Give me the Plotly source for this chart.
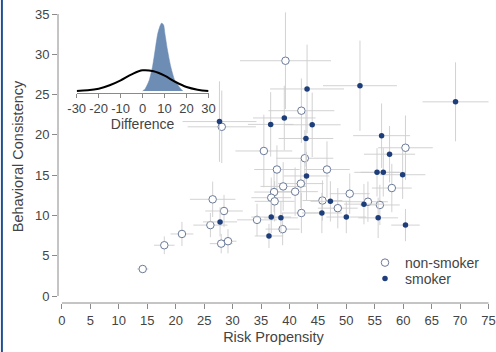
import plotly.graph_objects as go

# ---------------- data ----------------
ns_x = [14.2, 18.0, 21.1, 26.1, 26.5, 28.5, 28.0, 29.2, 28.1, 39.3, 42.1, 35.5, 42.7, 37.8, 46.6, 60.4,
        58.0, 38.9, 37.3, 36.8, 37.4, 42.0, 41.0, 45.8, 50.6, 48.5, 53.8, 55.9, 42.1, 34.3, 38.8]
ns_y = [3.35, 6.3, 7.7, 8.8, 12.0, 10.55, 6.5, 6.8, 21.0, 29.2, 23.0, 18.0, 17.1, 15.7, 15.7, 18.4,
        13.4, 13.6, 12.9, 12.2, 11.75, 13.95, 12.95, 11.85, 12.7, 10.9, 11.7, 11.3, 10.3, 9.45, 8.3]
ns_ex = [1.0, 1.8, 2.0, 3.0, 4.0, 3.3, 2.0, 1.5, 6.0, 8.0, 5.8, 5.0, 5.0, 4.0, 4.0, 4.8,
         3.5, 4.0, 3.5, 3.5, 3.5, 4.0, 4.0, 3.5, 3.5, 3.5, 3.5, 3.5, 3.5, 3.5, 3.0]
ns_ey = [0.4, 1.1, 1.5, 1.5, 2.2, 2.0, 1.2, 1.5, 4.5, 6.0, 4.0, 4.5, 3.5, 3.0, 3.5, 4.0,
         3.0, 3.0, 2.5, 2.5, 2.5, 3.0, 3.0, 2.5, 2.5, 2.5, 2.5, 2.5, 2.5, 2.0, 2.0]

sm_x = [27.8, 27.7, 43.1, 52.4, 39.1, 36.7, 44.0, 42.9, 56.2, 69.2, 43.0, 57.6, 55.4, 56.5, 59.9, 47.2,
        53.1, 55.6, 60.4, 50.0, 45.7, 38.5, 36.8, 36.4]
sm_y = [9.2, 21.65, 25.7, 26.1, 22.1, 21.3, 21.25, 19.55, 19.9, 24.1, 14.9, 17.6, 15.35, 15.35, 15.05, 11.75,
        11.4, 9.7, 8.8, 9.8, 10.3, 9.7, 9.8, 7.45]
sm_ex = [3.0, 6.5, 6.5, 6.5, 5.5, 4.0, 5.0, 4.8, 5.0, 5.8, 4.0, 4.5, 4.0, 4.0, 4.0, 3.5,
         3.5, 3.5, 2.5, 3.5, 3.5, 3.0, 3.5, 2.5]
sm_ey = [1.8, 5.0, 5.5, 5.6, 4.0, 4.0, 4.0, 3.5, 4.0, 4.9, 3.0, 3.5, 3.0, 3.0, 3.0, 2.5,
         2.5, 2.5, 2.0, 2.0, 2.5, 2.0, 2.0, 1.5]

x_ticks = [0, 5, 10, 15, 20, 25, 30, 35, 40, 45, 50, 55, 60, 65, 70, 75]
y_ticks = [0, 5, 10, 15, 20, 25, 30, 35]

# inset: prior (black line) and posterior (blue area) of the difference
prior_x = [-30, -25, -20, -15, -10, -5, 0, 5, 10, 15, 20, 25, 30]
prior_d = [0.0, 0.0013, 0.0044, 0.0109, 0.0204, 0.0318, 0.0394, 0.0375, 0.0291, 0.0171, 0.0076, 0.0025, 0.0]
post_x = [0.0, 1.19, 2.99, 4.48, 5.67, 6.87, 7.91, 8.66, 9.55, 10.15, 11.34, 12.84, 14.63, 17.31, 18.36]
post_d = [0.0, 0.0044, 0.0204, 0.0457, 0.0775, 0.1091, 0.1238, 0.1295, 0.1257, 0.1091, 0.0775, 0.0457,
          0.0204, 0.0044, 0.0]
inset_ticks = [-30, -20, -10, 0, 10, 20, 30]
inset_ticktext = ["-30", "-20", "-10", "0", "10", "20", "30"]

# ---------------- styling ----------------
FONT = "Liberation Sans"
TXT = "#444444"
AX = "#8a8a8a"
ERR = "rgba(205,205,205,0.9)"
NAVY = "#1d3e7a"
OPEN_EDGE = "#6b7a99"
BLUE_FILL = "#6e8db5"

fig = go.Figure()

fig.add_trace(go.Scatter(
    x=ns_x, y=ns_y, mode="markers", name="non-smoker", legend="legend",
    error_x=dict(type="data", array=ns_ex, color=ERR, thickness=1, width=0),
    error_y=dict(type="data", array=ns_ey, color=ERR, thickness=1, width=0),
    marker=dict(symbol="circle", size=7.5, color="white", line=dict(color=OPEN_EDGE, width=1)),
    xaxis="x", yaxis="y"))

fig.add_trace(go.Scatter(
    x=sm_x, y=sm_y, mode="markers", name="smoker", legend="legend2",
    error_x=dict(type="data", array=sm_ex, color=ERR, thickness=1, width=0),
    error_y=dict(type="data", array=sm_ey, color=ERR, thickness=1, width=0),
    marker=dict(symbol="circle", size=5.5, color=NAVY, line=dict(width=0)),
    xaxis="x", yaxis="y"))

fig.add_trace(go.Scatter(
    x=post_x, y=post_d, mode="lines", fill="tozeroy", fillcolor=BLUE_FILL,
    line=dict(color=BLUE_FILL, width=0.5, shape="spline", smoothing=0.6),
    showlegend=False, hoverinfo="skip", xaxis="x2", yaxis="y2"))

fig.add_trace(go.Scatter(
    x=prior_x, y=prior_d, mode="lines",
    line=dict(color="black", width=2, shape="spline", smoothing=1.0),
    showlegend=False, hoverinfo="skip", xaxis="x2", yaxis="y2"))

W, H = 496, 352
ml, mr, mt, mb = 58, 0, 10, 49
pw, ph = W - ml - mr, H - mt - mb


def px_x(p):
    return (p - ml) / pw


def px_y(q):
    return (H - mb - q) / ph


xs = 5.78  # px per unit
ys = 8.057
x0 = -(62 - ml) / xs
y_lo = -(H - mb - 296) / ys
y_hi = y_lo + ph / ys

legend_common = dict(xanchor="left", yanchor="top",
                     font=dict(family=FONT, size=14, color=TXT),
                     bgcolor="rgba(0,0,0,0)", borderwidth=0)

fig.update_layout(
    width=W, height=H,
    margin=dict(l=ml, r=mr, t=mt, b=mb),
    paper_bgcolor="white", plot_bgcolor="rgba(0,0,0,0)",
    font=dict(family=FONT, size=13, color=TXT),
    showlegend=True,
    legend=dict(x=px_x(370), y=px_y(247), **legend_common),
    legend2=dict(x=px_x(370), y=px_y(263), **legend_common),
    xaxis=dict(range=[x0, x0 + pw / xs], tickvals=x_ticks, ticks="outside", ticklen=5,
               tickcolor=AX, tickwidth=1, showline=False, showgrid=False, zeroline=False,
               ticklabeloverflow="allow", tickangle=0,
               tickfont=dict(size=13, color=TXT),
               title=dict(text="Risk Propensity", font=dict(size=14.5, color=TXT), standoff=5)),
    yaxis=dict(range=[y_lo, y_hi], tickvals=y_ticks, ticks="outside", ticklen=5,
               tickcolor=AX, tickwidth=1, showline=False, showgrid=False, zeroline=False,
               tickfont=dict(size=13, color=TXT),
               title=dict(text="Behavioral Consistency", font=dict(size=14.5, color=TXT), standoff=7)),
    xaxis2=dict(domain=[px_x(77), px_x(211)], anchor="y2", range=[inset_ticks[0], inset_ticks[-1]],
                tickvals=inset_ticks, ticktext=inset_ticktext,
                ticks="outside", ticklen=4, tickcolor=AX, tickangle=0,
                showline=True, linecolor=AX, linewidth=1, showgrid=False, zeroline=False,
                ticklabeloverflow="allow",
                tickfont=dict(size=13, color=TXT),
                title=dict(text="Difference", font=dict(size=14, color=TXT), standoff=2)),
    yaxis2=dict(domain=[px_y(92.5), px_y(18)], anchor="x2", range=[-0.0029, (91 - 18) / 525],
                visible=False, showgrid=False, zeroline=False),
    shapes=[
        # offset axis lines (R style), spanning the tick range only
        dict(type="line", xref="x", yref="paper", x0=x_ticks[0], x1=x_ticks[-1], y0=0, y1=0,
             line=dict(color=AX, width=1)),
        dict(type="line", xref="paper", yref="y", x0=0, x1=0, y0=y_ticks[0], y1=y_ticks[-1],
             line=dict(color=AX, width=1)),
        # left window edge stripe
        dict(type="rect", xref="paper", yref="paper", x0=px_x(0), x1=px_x(2), y0=px_y(H), y1=px_y(0),
             fillcolor="#1f4f8f", line=dict(width=0), layer="above"),
    ],
)

fig.write_html("out.html")
